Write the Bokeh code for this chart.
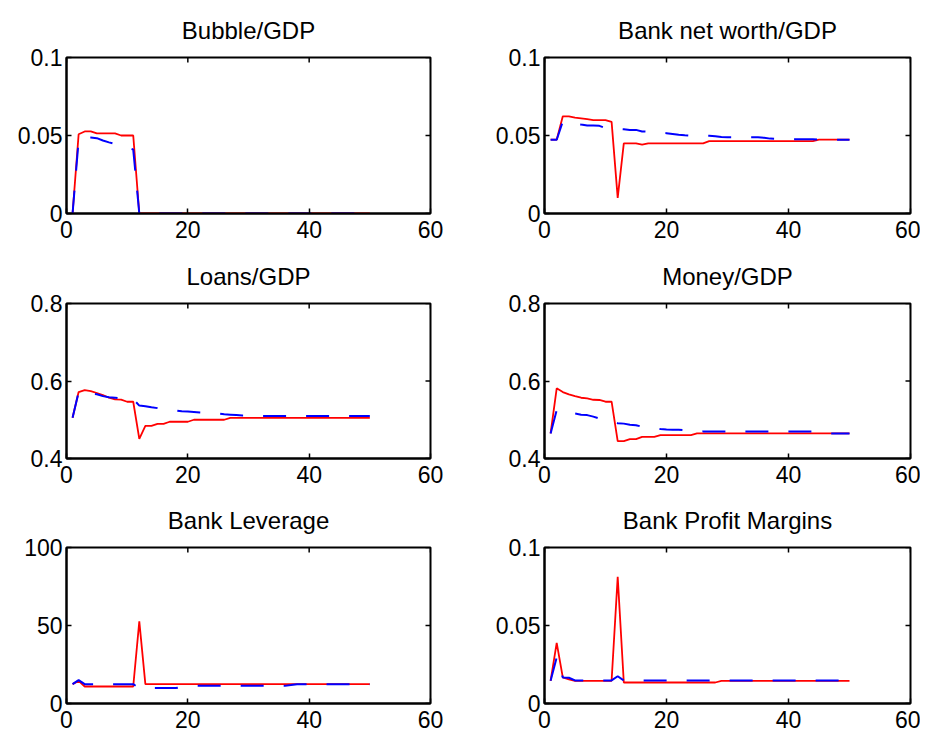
import math
from bokeh.plotting import figure
from bokeh.models import Range1d, FixedTicker, NumeralTickFormatter
from bokeh.layouts import gridplot
from bokeh.embed import file_html
from bokeh.resources import INLINE

# ---------------- data (periods 1..50) ----------------
t = list(range(1, 51))
x_ticks = [0, 20, 40, 60]

titles = ["Bubble/GDP", "Bank net worth/GDP", "Loans/GDP", "Money/GDP",
          "Bank Leverage", "Bank Profit Margins"]

bubble_red = [
    0.0, 0.0508, 0.0526, 0.0526, 0.0513, 0.0513, 0.0513, 0.0513, 0.0500, 0.0500,
    0.0500, 0.0, 0.0, 0.0, 0.0, 0.0, 0.0, 0.0, 0.0, 0.0,
    0.0, 0.0, 0.0, 0.0, 0.0, 0.0, 0.0, 0.0, 0.0, 0.0,
    0.0, 0.0, 0.0, 0.0, 0.0, 0.0, 0.0, 0.0, 0.0, 0.0,
    0.0, 0.0, 0.0, 0.0, 0.0, 0.0, 0.0, 0.0, 0.0, 0.0]
bubble_blue = [
    0.0, 0.0470, 0.0490, 0.0487, 0.0483, 0.0468, 0.0456, 0.0446, 0.0434, 0.0422,
    0.0410, 0.0, 0.0, 0.0, 0.0, 0.0, 0.0, 0.0, 0.0, 0.0,
    0.0, 0.0, 0.0, 0.0, 0.0, 0.0, 0.0, 0.0, 0.0, 0.0,
    0.0, 0.0, 0.0, 0.0, 0.0, 0.0, 0.0, 0.0, 0.0, 0.0,
    0.0, 0.0, 0.0, 0.0, 0.0, 0.0, 0.0, 0.0, 0.0, 0.0]

networth_red = [
    0.0473, 0.0473, 0.0623, 0.0623, 0.0615, 0.0610, 0.0605, 0.0598, 0.0598, 0.0598,
    0.0587, 0.0100, 0.0450, 0.0450, 0.0450, 0.0442, 0.0450, 0.0450, 0.0450, 0.0450,
    0.0450, 0.0450, 0.0450, 0.0450, 0.0450, 0.0450, 0.0464, 0.0464, 0.0464, 0.0464,
    0.0464, 0.0464, 0.0464, 0.0464, 0.0464, 0.0464, 0.0464, 0.0464, 0.0464, 0.0464,
    0.0464, 0.0464, 0.0464, 0.0464, 0.0473, 0.0473, 0.0473, 0.0473, 0.0473, 0.0473]
networth_blue = [
    0.0473, 0.0473, 0.0590, 0.0585, 0.0578, 0.0570, 0.0564, 0.0564, 0.0562, 0.0548,
    0.0545, 0.0542, 0.0540, 0.0536, 0.0536, 0.0526, 0.0524, 0.0522, 0.0519, 0.0515,
    0.0510, 0.0505, 0.0501, 0.0498, 0.0498, 0.0498, 0.0498, 0.0495, 0.0490, 0.0488,
    0.0488, 0.0488, 0.0488, 0.0488, 0.0488, 0.0485, 0.0480, 0.0478, 0.0476, 0.0476,
    0.0476, 0.0476, 0.0476, 0.0476, 0.0473, 0.0473, 0.0473, 0.0473, 0.0473, 0.0473]

loans_red = [
    0.505, 0.5715, 0.5767, 0.5741, 0.569, 0.5638, 0.5568, 0.5526, 0.552, 0.5465,
    0.5465, 0.4507, 0.4844, 0.4844, 0.4896, 0.4896, 0.4948, 0.4948, 0.4948, 0.4948,
    0.500, 0.500, 0.500, 0.500, 0.500, 0.500, 0.505, 0.505, 0.505, 0.505,
    0.505, 0.505, 0.505, 0.505, 0.505, 0.505, 0.505, 0.505, 0.505, 0.505,
    0.505, 0.505, 0.505, 0.505, 0.505, 0.505, 0.505, 0.505, 0.505, 0.505]
loans_blue = [
    0.505, 0.5715, 0.5715, 0.568, 0.5656, 0.561, 0.558, 0.5568, 0.5552, 0.554,
    0.553, 0.5365, 0.535, 0.532, 0.530, 0.526, 0.525, 0.524, 0.522, 0.521,
    0.520, 0.519, 0.518, 0.518, 0.516, 0.514, 0.513, 0.512, 0.511, 0.511,
    0.511, 0.510, 0.510, 0.510, 0.510, 0.510, 0.510, 0.510, 0.510, 0.510,
    0.510, 0.510, 0.510, 0.510, 0.510, 0.510, 0.510, 0.510, 0.510, 0.510]

money_red = [
    0.4647, 0.5811, 0.5715, 0.5656, 0.561, 0.5568, 0.555, 0.5516, 0.551, 0.5465,
    0.5465, 0.4448, 0.4448, 0.450, 0.450, 0.4559, 0.4559, 0.4559, 0.4603, 0.4603,
    0.4603, 0.4603, 0.4603, 0.4603, 0.4647, 0.4647, 0.4647, 0.4647, 0.4647, 0.4647,
    0.4647, 0.4647, 0.4647, 0.4647, 0.4647, 0.4647, 0.4647, 0.4647, 0.4647, 0.4647,
    0.4647, 0.4647, 0.4647, 0.4647, 0.4647, 0.4647, 0.4647, 0.4647, 0.4647, 0.4647]
money_blue = [
    0.4647, 0.525, 0.521, 0.518, 0.516, 0.513, 0.512, 0.508, 0.503, 0.500,
    0.497, 0.491, 0.490, 0.487, 0.486, 0.482, 0.480, 0.478, 0.476, 0.475,
    0.4745, 0.474, 0.473, 0.472, 0.471, 0.470, 0.470, 0.470, 0.470, 0.470,
    0.470, 0.470, 0.470, 0.470, 0.470, 0.470, 0.470, 0.470, 0.470, 0.470,
    0.470, 0.470, 0.470, 0.470, 0.470, 0.468, 0.4647, 0.4647, 0.4647, 0.4647]

leverage_red = [
    12.4, 14.5, 10.9, 10.9, 10.9, 10.9, 10.9, 10.9, 10.9, 10.9,
    10.9, 52.6, 12.4, 12.4, 12.4, 12.4, 12.4, 12.4, 12.4, 12.4,
    12.4, 12.4, 12.4, 12.4, 12.4, 12.4, 12.4, 12.4, 12.4, 12.4,
    12.4, 12.4, 12.4, 12.4, 12.4, 12.4, 12.4, 12.4, 12.4, 12.4,
    12.4, 12.4, 12.4, 12.4, 12.4, 12.4, 12.4, 12.4, 12.4, 12.4]
leverage_blue = [
    12.4, 15.0, 12.4, 12.4, 12.4, 12.4, 12.4, 12.4, 12.4, 12.4,
    12.4, 9.8, 9.9, 9.9, 9.9, 9.9, 9.9, 9.9, 10.6, 11.3,
    11.3, 11.3, 11.3, 11.3, 11.3, 11.3, 11.3, 11.3, 11.3, 11.3,
    11.3, 11.3, 11.3, 11.3, 11.3, 11.3, 11.8, 12.4, 12.4, 12.4,
    12.4, 12.4, 12.4, 12.4, 12.4, 12.4, 12.4, 12.4, 12.4, 12.4]

profit_red = [
    0.01455, 0.0389, 0.0167, 0.0155, 0.01455, 0.01455, 0.01455, 0.01455, 0.01455, 0.01455,
    0.01455, 0.0812, 0.01346, 0.01346, 0.01346, 0.01346, 0.01346, 0.01346, 0.01346, 0.01346,
    0.01346, 0.01346, 0.01346, 0.01346, 0.01346, 0.01346, 0.01346, 0.01346, 0.01455, 0.01455,
    0.01455, 0.01455, 0.01455, 0.01455, 0.01455, 0.01455, 0.01455, 0.01455, 0.01455, 0.01455,
    0.01455, 0.01455, 0.01455, 0.01455, 0.01455, 0.01455, 0.01455, 0.01455, 0.01455, 0.01455]
profit_blue = [
    0.01455, 0.0295, 0.0167, 0.0165, 0.0148, 0.0148, 0.0148, 0.0148, 0.0148, 0.0148,
    0.0148, 0.0175, 0.0148, 0.0148, 0.0148, 0.0148, 0.0148, 0.0148, 0.0148, 0.0148,
    0.0148, 0.0148, 0.0148, 0.0148, 0.0148, 0.0148, 0.0148, 0.0148, 0.0148, 0.0148,
    0.0148, 0.0148, 0.0148, 0.0148, 0.0148, 0.0148, 0.0148, 0.0148, 0.0148, 0.0148,
    0.0148, 0.0148, 0.0148, 0.0148, 0.0148, 0.0148, 0.0148, 0.0148, 0.0148, 0.0148]

x_range = (0, 60)
y_ranges = [(0, 0.1), (0, 0.1), (0.4, 0.8), (0.4, 0.8), (0, 100), (0, 0.1)]
y_ticks = [[0, 0.05, 0.1], [0, 0.05, 0.1], [0.4, 0.6, 0.8], [0.4, 0.6, 0.8],
           [0, 50, 100], [0, 0.05, 0.1]]
reds = [bubble_red, networth_red, loans_red, money_red, leverage_red, profit_red]
blues = [bubble_blue, networth_blue, loans_blue, money_blue, leverage_blue, profit_blue]

FONT = "Liberation Sans"
TICK_SIZE = "23px"
TITLE_SIZE = "24px"
TICK_LEN = 5


def style_axis(ax, ticks, standoff):
    ax.ticker = FixedTicker(ticks=ticks)
    ax.formatter = NumeralTickFormatter(format="0.[00]")
    ax.major_tick_in = TICK_LEN
    ax.major_tick_out = 0
    ax.major_tick_line_color = "black"
    ax.major_tick_line_width = 1.5
    ax.minor_tick_line_color = None
    ax.axis_line_width = 2
    ax.axis_line_color = "black"
    ax.major_label_text_font = FONT
    ax.major_label_text_color = "black"
    ax.major_label_text_font_size = TICK_SIZE
    ax.major_label_standoff = standoff


def make(i, width, height, bl, br, bt, bb):
    y0, y1 = y_ranges[i]
    p = figure(width=width, height=height,
               x_range=Range1d(*x_range), y_range=Range1d(y0, y1),
               output_backend="svg", toolbar_location=None,
               min_border_left=bl, min_border_right=br,
               min_border_top=bt, min_border_bottom=bb,
               title=titles[i])
    p.title.align = "center"
    p.title.text_font = FONT
    p.title.text_font_size = TITLE_SIZE
    p.title.text_font_style = "normal"
    p.title.text_color = "black"
    p.title.standoff = 27
    p.xgrid.visible = False
    p.ygrid.visible = False
    p.outline_line_color = "black"
    p.outline_line_width = 2
    p.outline_line_alpha = 1.0
    p.background_fill_color = "white"
    p.border_fill_color = "white"
    style_axis(p.xaxis[0], x_ticks, 7)
    style_axis(p.yaxis[0], y_ticks[i], 4)
    # mirrored inward tick marks on the top and right edges (MATLAB box)
    p.ray(x=x_ticks, y=[y1] * len(x_ticks), length=TICK_LEN, length_units="screen",
          angle=-math.pi / 2, line_color="black", line_width=1.5)
    p.ray(x=[x_range[1]] * len(y_ticks[i]), y=y_ticks[i], length=TICK_LEN,
          length_units="screen", angle=math.pi, line_color="black", line_width=1.5)
    p.line(t, reds[i], line_color="#ff0000", line_width=1.8)
    p.line(t, blues[i], line_color="#0000ff", line_width=2, line_dash="23 20")
    return p


# frame sizes: column 1 = 364 px wide, column 2 = 366 px wide
plots = []
rows_spec = [(57, 34, 156), (56, 33, 155), (56, 36, 156)]
for r, (bt, bb, fh) in enumerate(rows_spec):
    h = bt + fh + bb
    left = make(2 * r, 66 + 364 + 56, h, 66, 56, bt, bb)
    right = make(2 * r + 1, 58 + 366 + 10, h, 58, 10, bt, bb)
    plots.append([left, right])

grid = gridplot(plots, toolbar_location=None)

open("out.html", "w").write(file_html(grid, INLINE))
